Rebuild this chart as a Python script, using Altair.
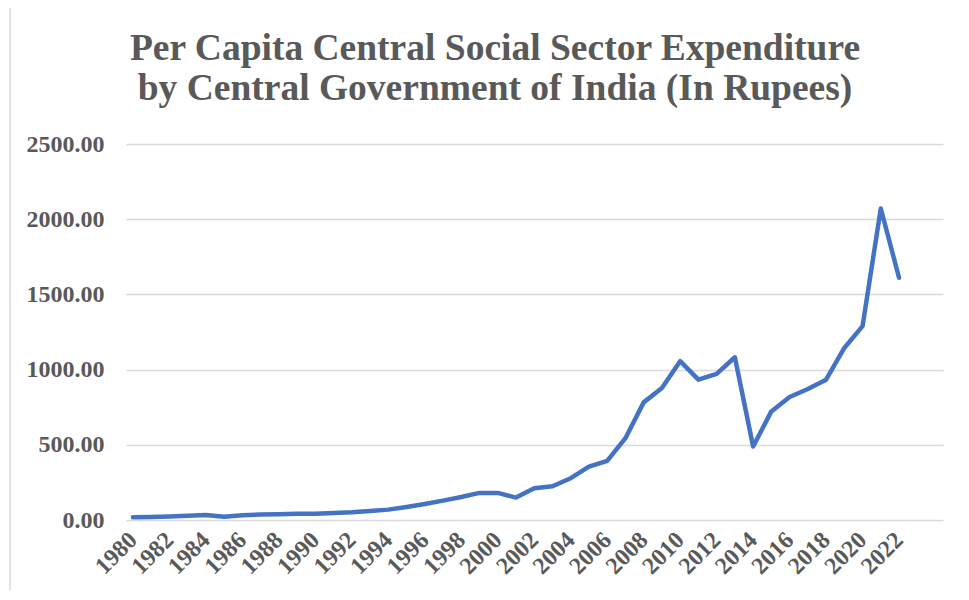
import altair as alt
import pandas as pd

years = list(range(1980, 2023))
values = [18, 20, 24, 29, 33, 22, 31, 36, 38, 42,
          42, 47, 51, 60, 69, 87, 107, 129, 153, 180,
          180, 149, 211, 224, 278, 355, 393, 544, 782, 878,
          1056, 933, 971, 1082, 489, 722, 818, 871, 933, 1144,
          1289, 2071, 1611]
title_lines = ["Per Capita Central Social Sector Expenditure",
               "by Central Government of India (In Rupees)"]
x_ticks = list(range(1980, 2023, 2))
y_ticks = [0, 500, 1000, 1500, 2000, 2500]

df = pd.DataFrame({"year": years, "value": values})
tdf = pd.DataFrame({"t": title_lines, "ty": [-84, -44]})

FONT = "Liberation Serif"
GREY = "#595959"

line = alt.Chart(df).mark_line(
    color="#4472C4", strokeWidth=4.5, strokeJoin="round", strokeCap="round"
).encode(
    x=alt.X("year:Q",
            scale=alt.Scale(domain=[1979.62, 2024.41], nice=False, zero=False),
            axis=alt.Axis(values=x_ticks, format="d", labelAngle=-45,
                          labelAlign="right", labelBaseline="middle",
                          labelPadding=16, labelFont=FONT, labelFontSize=24,
                          labelFontWeight="bold", labelColor=GREY,
                          ticks=False, domain=False, grid=False, title=None,
                          labelOverlap=False, labelBound=False, labelFlush=False)),
    y=alt.Y("value:Q",
            scale=alt.Scale(domain=[0, 2500], nice=False),
            axis=alt.Axis(values=y_ticks, format=".2f", labelFont=FONT,
                          labelFontSize=24, labelFontWeight="bold",
                          labelColor=GREY, labelPadding=22, ticks=False,
                          domain=False, grid=True, gridColor="#d9d9d9",
                          gridWidth=1.3, title=None))
)

titles = alt.Chart(tdf).mark_text(
    font=FONT, fontSize=37.5, fontWeight="bold", color=GREY,
    align="center", baseline="alphabetic"
).encode(
    text="t:N",
    x=alt.value(369),
    y=alt.Y("ty:Q", scale=None)
)

border = alt.Chart(pd.DataFrame({"a": [0]})).mark_rule(
    color="#d9d9d9", strokeWidth=1.5
).encode(x=alt.value(-116), y=alt.value(-140), y2=alt.value(450))

chart = alt.layer(border, line, titles).properties(
    width=817, height=376,
    autosize=alt.AutoSizeParams(type="none"),
    padding={"left": 118, "top": 136, "right": 18, "bottom": 70},
).configure_view(stroke=None)

chart.save("out.html", embed_options={"renderer": "svg", "actions": False})
